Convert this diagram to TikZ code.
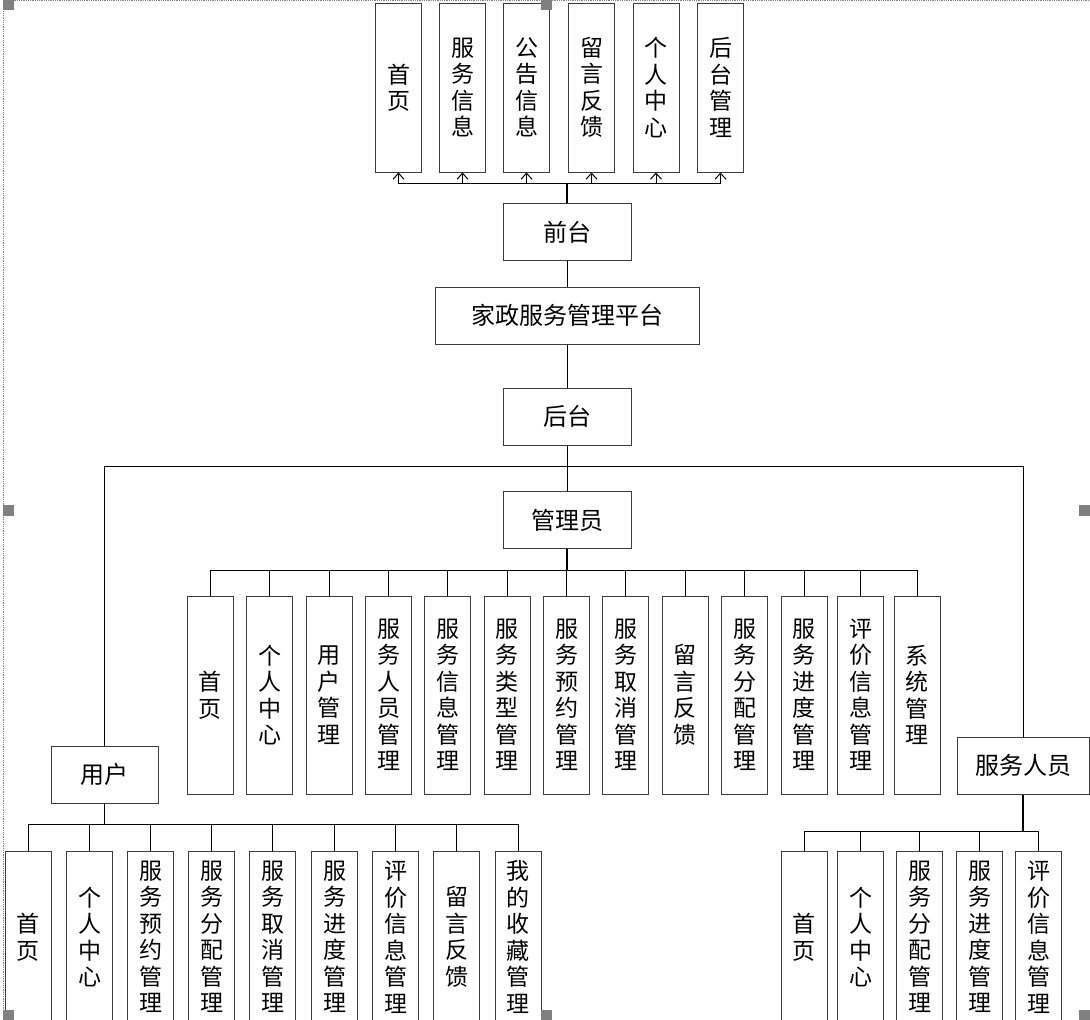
\documentclass[tikz,border=0pt]{standalone}
\usepackage{fontspec}
\setmainfont{Noto Sans CJK SC}
\usetikzlibrary{arrows.meta}
\definecolor{boxline}{HTML}{3C3C3C}
\definecolor{handlegray}{HTML}{808080}
\tikzset{
  hbox/.style={draw=boxline, line width=1pt, minimum height=57pt, inner sep=0pt,
               font=\fontsize{24pt}{28pt}\selectfont},
  vbox/.style={draw=boxline, line width=1pt, minimum width=46pt, inner sep=0pt,
               align=center, font=\fontsize{23pt}{26.5pt}\selectfont},
  topbox/.style={vbox, minimum height=169pt},
  admbox/.style={vbox, minimum height=198pt},
  lowbox/.style={vbox, minimum height=171pt, anchor=north},
  link/.style={line width=1pt},
  trunk/.style={line width=1.6pt},
  uparrow/.style={link, -{Straight Barb[length=6pt, width=11pt]}},
  handle/.style={fill=handlegray, draw=none},
}

\begin{document}
\begin{tikzpicture}[x=1pt, y=-1pt]
    \useasboundingbox (0,0) rectangle (1090,1020);
    % front end
    \node[topbox] (f1) at (398.5, 87.5) {首\\页};
    \node[topbox] (f2) at (462.5, 87.5) {服\\务\\信\\息};
    \node[topbox] (f3) at (526.5, 87.5) {公\\告\\信\\息};
    \node[topbox] (f4) at (591.5, 87.5) {留\\言\\反\\馈};
    \node[topbox] (f5) at (656.0, 87.5) {个\\人\\中\\心};
    \node[topbox] (f6) at (720.5, 87.5) {后\\台\\管\\理};
    \node[hbox, minimum width=128pt] (qt) at (567, 232) {前台};
    \node[hbox, minimum width=264pt] (pt) at (567, 315.5) {家政服务管理平台};
    \node[hbox, minimum width=128pt] (ht) at (567, 416.5) {后台};
    \coordinate (qtbus) at (567, 183);
    \draw[trunk] (qt.north) -- (qtbus);
    \draw[uparrow] (qtbus) -| (f1.south);
    \draw[uparrow] (qtbus) -| (f2.south);
    \draw[uparrow] (qtbus) -| (f3.south);
    \draw[uparrow] (qtbus) -| (f4.south);
    \draw[uparrow] (qtbus) -| (f5.south);
    \draw[uparrow] (qtbus) -| (f6.south);
    \draw[link] (qt) -- (pt);
    \draw[link] (pt) -- (ht);
    % back end roles
    \node[hbox, minimum width=128pt] (ad) at (567, 520) {管理员};
    \node[hbox, minimum width=107pt] (yh) at (104.5, 774.5) {用户};
    \node[hbox, minimum width=132pt] (fw) at (1023, 765.5) {服务人员};
    \coordinate (htbus) at (567, 466);
    \draw[link] (ht) -- (ad);
    \draw[link] (htbus) -| (yh.north);
    \draw[link] (htbus) -| (fw.north);
    % admin modules
    \node[admbox] (a1) at (210.0, 695) {首\\页};
    \node[admbox] (a2) at (269.5, 695) {个\\人\\中\\心};
    \node[admbox] (a3) at (329.0, 695) {用\\户\\管\\理};
    \node[admbox] (a4) at (388.5, 695) {服\\务\\人\\员\\管\\理};
    \node[admbox] (a5) at (447.5, 695) {服\\务\\信\\息\\管\\理};
    \node[admbox] (a6) at (507.0, 695) {服\\务\\类\\型\\管\\理};
    \node[admbox] (a7) at (566.5, 695) {服\\务\\预\\约\\管\\理};
    \node[admbox] (a8) at (625.5, 695) {服\\务\\取\\消\\管\\理};
    \node[admbox] (a9) at (685.0, 695) {留\\言\\反\\馈};
    \node[admbox] (a10) at (744.5, 695) {服\\务\\分\\配\\管\\理};
    \node[admbox] (a11) at (804.0, 695) {服\\务\\进\\度\\管\\理};
    \node[admbox] (a12) at (860.5, 695) {评\\价\\信\\息\\管\\理};
    \node[admbox] (a13) at (917.0, 695) {系\\统\\管\\理};
    \coordinate (adbus) at (567, 570);
    \draw[trunk] (ad.south) -- (adbus);
    \draw[link] (adbus) -| (a1.north);
    \draw[link] (adbus) -| (a2.north);
    \draw[link] (adbus) -| (a3.north);
    \draw[link] (adbus) -| (a4.north);
    \draw[link] (adbus) -| (a5.north);
    \draw[link] (adbus) -| (a6.north);
    \draw[link] (adbus) -| (a7.north);
    \draw[link] (adbus) -| (a8.north);
    \draw[link] (adbus) -| (a9.north);
    \draw[link] (adbus) -| (a10.north);
    \draw[link] (adbus) -| (a11.north);
    \draw[link] (adbus) -| (a12.north);
    \draw[link] (adbus) -| (a13.north);
    % user modules
    \node[lowbox] (u1) at (28.0, 851) {首\\页};
    \node[lowbox] (u2) at (89.5, 851) {个\\人\\中\\心};
    \node[lowbox] (u3) at (150.5, 851) {服\\务\\预\\约\\管\\理};
    \node[lowbox] (u4) at (211.5, 851) {服\\务\\分\\配\\管\\理};
    \node[lowbox] (u5) at (272.5, 851) {服\\务\\取\\消\\管\\理};
    \node[lowbox] (u6) at (334.5, 851) {服\\务\\进\\度\\管\\理};
    \node[lowbox] (u7) at (395.5, 851) {评\\价\\信\\息\\管\\理};
    \node[lowbox] (u8) at (456.5, 851) {留\\言\\反\\馈};
    \node[lowbox] (u9) at (518.0, 851) {我\\的\\收\\藏\\管\\理};
    \coordinate (yhbus) at (104.5, 824);
    \draw[trunk] (yh.south) -- (yhbus);
    \draw[link] (yhbus) -| (u1.north);
    \draw[link] (yhbus) -| (u2.north);
    \draw[link] (yhbus) -| (u3.north);
    \draw[link] (yhbus) -| (u4.north);
    \draw[link] (yhbus) -| (u5.north);
    \draw[link] (yhbus) -| (u6.north);
    \draw[link] (yhbus) -| (u7.north);
    \draw[link] (yhbus) -| (u8.north);
    \draw[link] (yhbus) -| (u9.north);
    % staff modules
    \node[lowbox] (s1) at (804.0, 851) {首\\页};
    \node[lowbox] (s2) at (860.5, 851) {个\\人\\中\\心};
    \node[lowbox] (s3) at (919.5, 851) {服\\务\\分\\配\\管\\理};
    \node[lowbox] (s4) at (979.5, 851) {服\\务\\进\\度\\管\\理};
    \node[lowbox] (s5) at (1038.5, 851) {评\\价\\信\\息\\管\\理};
    \coordinate (fwbus) at (1023, 831);
    \draw[trunk] (fw.south) -- (fwbus);
    \draw[link] (fwbus) -| (s1.north);
    \draw[link] (fwbus) -| (s2.north);
    \draw[link] (fwbus) -| (s3.north);
    \draw[link] (fwbus) -| (s4.north);
    \draw[link] (fwbus) -| (s5.north);
    % selection frame
    \draw[handlegray, densely dotted, line width=0.8pt] (3.5,1020) -- (3.5,0.5) -- (1090,0.5);
    \fill[handle] (3,0) rectangle (14,10);
    \fill[handle] (541,0) rectangle (552,10);
    \fill[handle] (3,505) rectangle (14,516);
    \fill[handle] (1079,505) rectangle (1090,516);
    \fill[handle] (3,1010) rectangle (14,1020);
    \fill[handle] (541,1010) rectangle (552,1020);
    \fill[handle] (1079,1010) rectangle (1090,1020);
\end{tikzpicture}
\end{document}
